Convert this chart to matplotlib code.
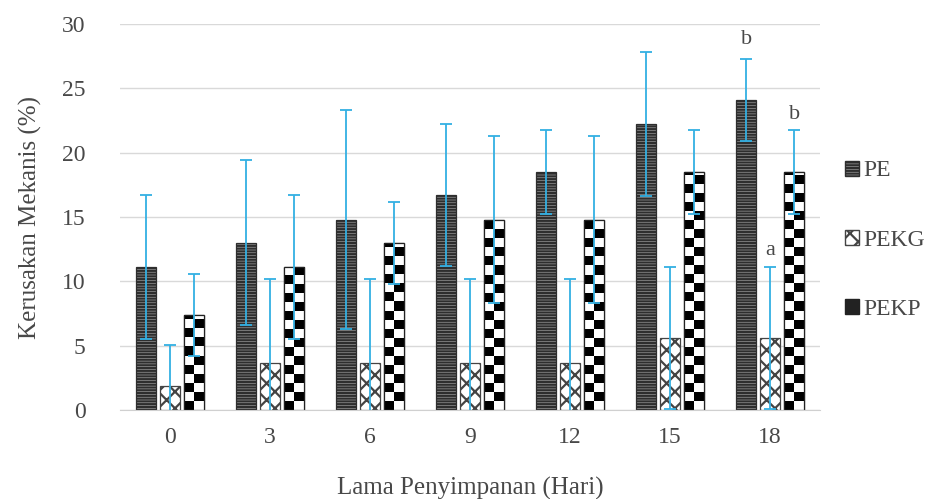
import numpy as np
import matplotlib
matplotlib.use('Agg')
import matplotlib.pyplot as plt
from matplotlib.patches import Patch

plt.rcParams['font.family'] = ['Liberation Serif', 'DejaVu Serif']
plt.rcParams['hatch.linewidth'] = 1.6

# data
days = ['0', '3', '6', '9', '12', '15', '18']
pe = [11.1, 13.0, 14.8, 16.7, 18.5, 22.2, 24.1]
pekg = [1.9, 3.7, 3.7, 3.7, 3.7, 5.6, 5.6]
pekp = [7.4, 11.1, 13.0, 14.8, 14.8, 18.5, 18.5]
pe_err = [5.6, 6.4, 8.5, 5.5, 3.3, 5.6, 3.2]
pekg_err = [3.2, 6.5, 6.5, 6.5, 6.5, 5.5, 5.5]
pekp_err = [3.2, 5.6, 3.2, 6.5, 6.5, 3.3, 3.3]
labels = ['PE', 'PEKG', 'PEKP']

txt = '#484848'
err_col = '#33b0e3'

fig = plt.figure(figsize=(9.46, 4.99), dpi=100)
ax = fig.add_axes([0.127, 0.178, 0.74, 0.774])

x = np.arange(len(days))
w = 0.2
off = 0.24

ax.bar(x - off, pe, w, facecolor='#b0b0b0', edgecolor='#2e2e2e', hatch='------',
       linewidth=0.9, zorder=2)
ax.bar(x, pekg, w, facecolor='white', edgecolor='#444444', hatch='xx',
       linewidth=0.9, zorder=2)
bars_p = ax.bar(x + off, pekp, w, facecolor='white', edgecolor='#222222',
                linewidth=0.9, zorder=2)

# checkerboard fill for PEKP bars
cell_h = 0.7
for b in bars_p:
    x0 = b.get_x()
    bw = b.get_width()
    h = b.get_height()
    ny = int(np.ceil(h / cell_h))
    img = np.indices((ny, 2)).sum(axis=0) % 2
    im = ax.imshow(img, cmap='gray', extent=(x0, x0 + bw, 0, ny * cell_h),
                   origin='lower', aspect='auto', interpolation='nearest',
                   zorder=2.1)
    im.set_clip_path(b)
    ax.bar(x0 + bw / 2, h, bw, fill=False, edgecolor='#222222',
           linewidth=0.9, zorder=2.2)

for xs, vals, errs in [(x - off, pe, pe_err), (x, pekg, pekg_err), (x + off, pekp, pekp_err)]:
    ax.errorbar(xs, vals, yerr=errs, fmt='none', ecolor=err_col, elinewidth=1.3,
                capsize=4, capthick=1.3, zorder=3)

# significance letters on day 18
ax.text(6 - off, 28.8, 'b', ha='center', va='center', fontsize=16, color=txt)
ax.text(6, 12.4, 'a', ha='center', va='center', fontsize=16, color=txt)
ax.text(6 + off, 23.0, 'b', ha='center', va='center', fontsize=16, color=txt)

ax.set_xlim(-0.5, len(days) - 0.5)
ax.set_ylim(0, 30)
ax.set_yticks([0, 5, 10, 15, 20, 25, 30])
ax.set_xticks(x)
ax.set_xticklabels(days)
ax.tick_params(length=0, labelsize=17, colors=txt)
ax.tick_params(axis='x', pad=12)
ax.tick_params(axis='y', pad=25)
ax.yaxis.grid(True, color='#d9d9d9', linewidth=1)
ax.set_axisbelow(True)
for s in ['top', 'right', 'left']:
    ax.spines[s].set_visible(False)
ax.spines['bottom'].set_color('#d0d0d0')

ax.set_xlabel('Lama Penyimpanan (Hari)', fontsize=18, color=txt, labelpad=21)
ax.set_ylabel('Kerusakan Mekanis (%)', fontsize=18, color=txt, labelpad=14)

handles = [
    Patch(facecolor='#b0b0b0', edgecolor='#2e2e2e', hatch='------'),
    Patch(facecolor='white', edgecolor='#444444', hatch='xx'),
    Patch(facecolor='#222222', edgecolor='#222222', hatch='++'),
]
ax.legend(handles, labels, loc='center left', bbox_to_anchor=(1.005, 0.44),
          frameon=False, fontsize=17, labelcolor=txt, handlelength=0.6,
          handleheight=0.6, handletextpad=0.2, labelspacing=2.05)

fig.savefig('out.png', dpi=100)
